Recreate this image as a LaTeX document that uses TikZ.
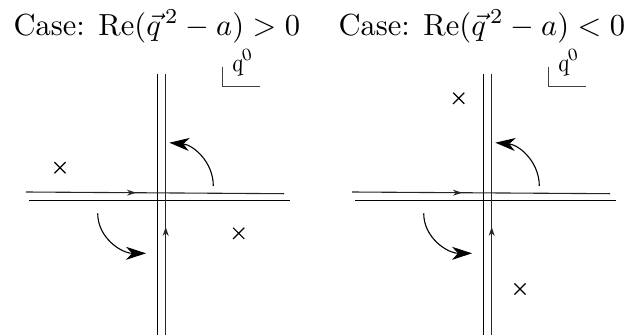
\documentclass[tikz,border=0pt]{standalone}
\usetikzlibrary{arrows.meta,decorations.markings,shapes.misc}
\begin{document}
\begin{tikzpicture}[x=1pt,y=-1pt,
  axis/.style={line width=1.3pt},
  contour/.style={line width=1.1pt, black!85},
  midarrow/.style={postaction={decorate},decoration={markings,mark=at position #1 with {\arrow{Stealth[length=9pt,width=6pt]}}}},
  bigarrow/.style={line width=1.1pt,-{Stealth[length=20pt,width=13pt,inset=6pt]}},
  pole/.style={cross out,draw,line width=1.2pt,minimum size=10pt,inner sep=0pt},
  title/.style={anchor=base west,inner sep=0pt,text depth=0pt,font=\fontsize{10}{12}\selectfont,scale=3.05},
  qlabel/.style={font=\fontsize{10}{12}\selectfont,inner sep=0pt},
  corner/.style={line width=1pt, black!75}]
\useasboundingbox (0,0) rectangle (631,335);

\node[title] (t1) at (13,35) {Case: $\mathrm{Re}(\vec{q}^{\,2}-a)>0$};
\node[title] (t2) at (338,35) {Case: $\mathrm{Re}(\vec{q}^{\,2}-a)<0$};

% left panel
\coordinate (vaTL) at (157.7,74);  \coordinate (vaBL) at (157.7,335);
\coordinate (vcTL) at (165.7,74);  \coordinate (vcBL) at (165.7,335);
\coordinate (haLL) at (29,200.7);  \coordinate (haRL) at (290,200.7);
\coordinate (hcLL) at (26,192);    \coordinate (hcRL) at (284,193.7);
\coordinate (u1L) at (213.3,186);  \coordinate (u2L) at (169.3,142.7);
\coordinate (l1L) at (97.7,213.3); \coordinate (l2L) at (146,253.3);
\coordinate (k1L) at (222,66.7); \coordinate (k2L) at (222,86.7); \coordinate (k3L) at (260,86.7);
\node[pole] (p1L) at (60,167.7) {};
\node[pole] (p2L) at (238.7,233.3) {};
\node[qlabel,scale=2.5,rotate=12] (qL) at (243,63) {$q^0$};

\draw[axis] (vaTL) -- (vaBL);
\draw[axis] (haLL) -- (haRL);
\draw[contour,midarrow=0.426] (hcLL) -- (hcRL);
\draw[contour,midarrow=0.414] (vcBL) -- (vcTL);
\draw[bigarrow] (u1L) to[out=90,in=-5] (u2L);
\draw[bigarrow] (l1L) to[out=-90,in=180] (l2L);
\draw[corner] (k1L) -- (k2L) -- (k3L);

% right panel
\begin{scope}[xshift=326pt]
\coordinate (vaTR) at (157.7,74);  \coordinate (vaBR) at (157.7,335);
\coordinate (vcTR) at (165.7,74);  \coordinate (vcBR) at (165.7,335);
\coordinate (haLR) at (29,200.7);  \coordinate (haRR) at (290,200.7);
\coordinate (hcLR) at (26,192);    \coordinate (hcRR) at (284,193.7);
\coordinate (u1R) at (213.3,186);  \coordinate (u2R) at (169.3,142.7);
\coordinate (l1R) at (97.7,213.3); \coordinate (l2R) at (146,253.3);
\coordinate (k1R) at (222,66.7); \coordinate (k2R) at (222,86.7); \coordinate (k3R) at (260,86.7);
\node[qlabel,scale=2.5,rotate=12] (qR) at (243,63) {$q^0$};
\end{scope}
\node[pole] (p1R) at (458.7,98.3) {};
\node[pole] (p2R) at (520,289) {};

\draw[axis] (vaTR) -- (vaBR);
\draw[axis] (haLR) -- (haRR);
\draw[contour,midarrow=0.426] (hcLR) -- (hcRR);
\draw[contour,midarrow=0.414] (vcBR) -- (vcTR);
\draw[bigarrow] (u1R) to[out=90,in=-5] (u2R);
\draw[bigarrow] (l1R) to[out=-90,in=180] (l2R);
\draw[corner] (k1R) -- (k2R) -- (k3R);
\end{tikzpicture}
\end{document}
